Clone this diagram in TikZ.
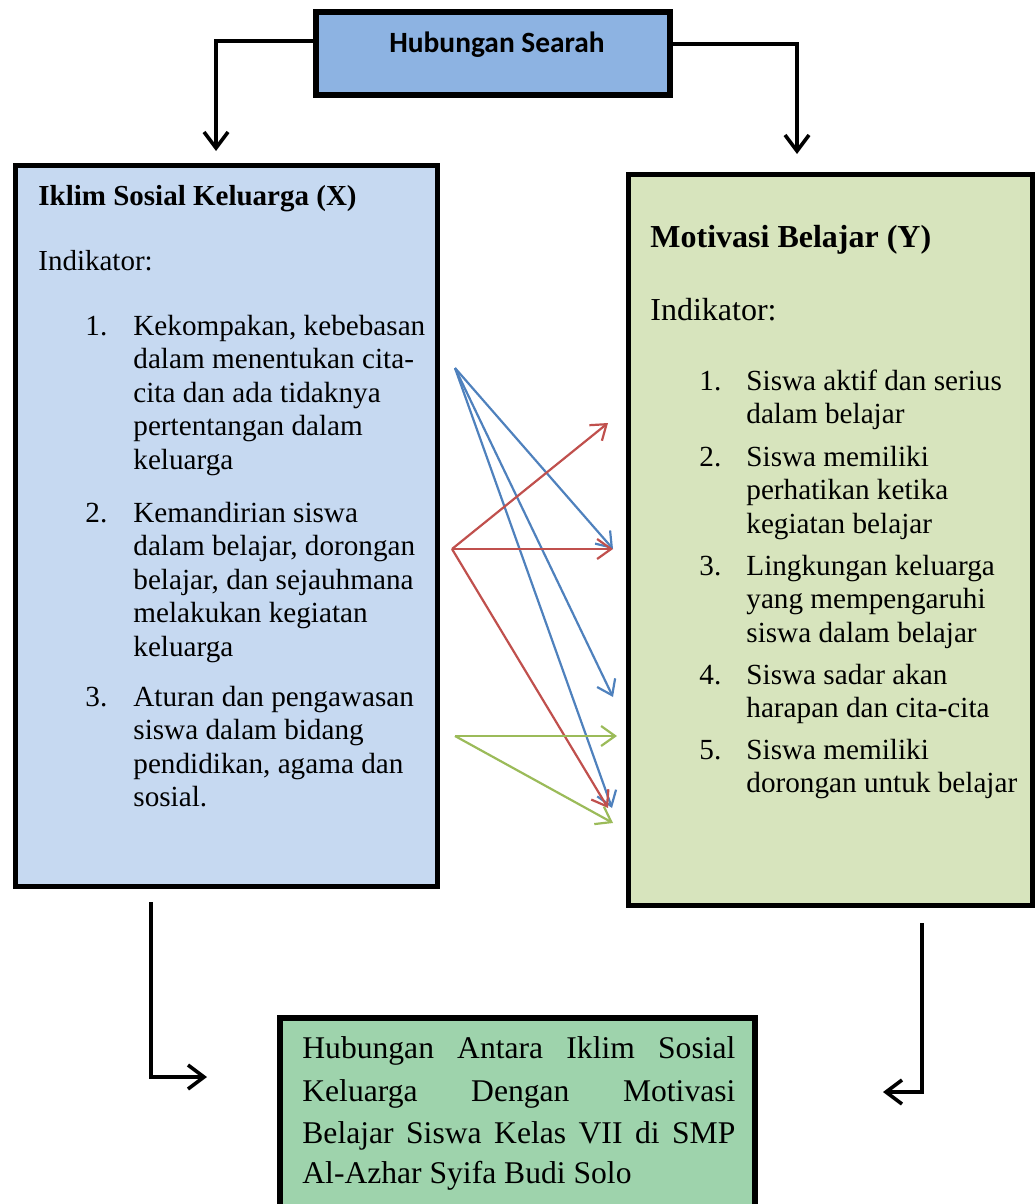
\documentclass[tikz,border=0pt]{standalone}
\usepackage{fontspec}
\setmainfont{Liberation Serif}
\newfontfamily\calibri{Carlito}
\usetikzlibrary{arrows.meta}

\definecolor{searahblue}{HTML}{8DB3E2}
\definecolor{xblue}{HTML}{C6D9F1}
\definecolor{ygreen}{HTML}{D7E4BD}
\definecolor{hasilgreen}{HTML}{9ED3AC}
\definecolor{lnblue}{HTML}{4F81BD}
\definecolor{lnred}{HTML}{C0504D}
\definecolor{lngreen}{HTML}{9BBB59}

\begin{document}
\begin{tikzpicture}[x=0.5pt,y=-0.5pt,
  box/.style={draw,anchor=north west,inner sep=0pt,outer sep=0pt},
  blk/.style={line width=1.8pt,-{Straight Barb[length=8pt,width=12pt]}},
  ind/.style={line width=1.1pt,-{Straight Barb[length=7pt,width=10pt]}},
  txt/.style={anchor=base west,inner sep=0pt,font=\fontsize{14.6}{16.8}\selectfont},
  big/.style={anchor=base west,inner sep=0pt,font=\fontsize{16}{19}\selectfont}]
  \useasboundingbox (0,0) rectangle (1035,1204);

  % boxes
  \node[box,line width=3pt,fill=searahblue,minimum width=177pt,minimum height=41.5pt] (searah) at (316,12) {};
  \node[anchor=base,inner sep=0pt,font=\calibri\bfseries\fontsize{14.7}{17}\selectfont] (searahlbl) at (497,53) {Hubungan Searah};
  \node[box,line width=2.5pt,fill=xblue,minimum width=211pt,minimum height=360.5pt] (keluarga) at (15,165) {};
  \node[box,line width=2.5pt,fill=ygreen,minimum width=202pt,minimum height=365.5pt] (motivasi) at (628.5,174.5) {};
  \node[box,line width=3pt,fill=hasilgreen,minimum width=237.5pt,minimum height=110pt] (hasil) at (280,1018) {};

  % Iklim Sosial Keluarga (X)
  \node[txt,font=\bfseries\fontsize{14.5}{16.8}\selectfont] (xjudul) at (38,205) {Iklim Sosial Keluarga (X)};
  \node[txt,font=\fontsize{14.5}{16.8}\selectfont] (xind) at (38,270) {Indikator:};
  \node[txt] (xn1) at (85,335) {1.};
  \foreach \t [count=\k from 0] in {{Kekompakan, kebebasan},{dalam menentukan cita-},{cita dan ada tidaknya},{pertentangan dalam},keluarga}
    \node[txt] (xa\k) at (133,335+33.6*\k) {\t};
  \node[txt] (xn2) at (85,522) {2.};
  \foreach \t [count=\k from 0] in {{Kemandirian siswa},{dalam belajar, dorongan},{belajar, dan sejauhmana},{melakukan kegiatan},keluarga}
    \node[txt] (xb\k) at (133,522+33.6*\k) {\t};
  \node[txt] (xn3) at (85,706) {3.};
  \foreach \t [count=\k from 0] in {{Aturan dan pengawasan},{siswa dalam bidang},{pendidikan, agama dan},{sosial.}}
    \node[txt] (xc\k) at (133,706+33.6*\k) {\t};

  % Motivasi Belajar (Y)
  \node[big,font=\bfseries\fontsize{16}{19}\selectfont] (yjudul) at (650,247) {Motivasi Belajar (Y)};
  \node[big] (yind) at (650,320) {Indikator:};
  \foreach \n/\y/\lines in {1/390/{{Siswa aktif dan serius},{dalam belajar}},
      2/466/{{Siswa memiliki},{perhatikan ketika},{kegiatan belajar}},
      3/575/{{Lingkungan keluarga},{yang mempengaruhi},{siswa dalam belajar}},
      4/684/{{Siswa sadar akan},{harapan dan cita-cita}},
      5/759/{{Siswa memiliki},{dorongan untuk belajar}}} {
    \node[txt] (yn\n) at (699,\y) {\n.};
    \foreach \t [count=\k from 0] in \lines
      \node[txt] (y\n l\k) at (746,\y+33.6*\k) {\t};
  }

  % hasil
  \node[txt,font=\fontsize{15.8}{21}\selectfont] (h1) at (302,1058) {\makebox[216.5pt][s]{Hubungan Antara Iklim Sosial}};
  \node[txt,font=\fontsize{15.8}{21}\selectfont] (h2) at (302,1101) {\makebox[216.5pt][s]{Keluarga Dengan Motivasi}};
  \node[txt,font=\fontsize{15.8}{21}\selectfont] (h3) at (302,1143) {\makebox[216.5pt][s]{Belajar Siswa Kelas VII di SMP}};
  \node[txt,font=\fontsize{15.8}{21}\selectfont] (h4) at (302,1183) {Al-Azhar Syifa Budi Solo};

  % black connectors
  \coordinate (kiri) at (216,151);
  \coordinate (kanan) at (797,154);
  \draw[blk] (searah.west |- 0,41) -| (kiri);
  \draw[blk] (searah.east |- 0,44) -| (kanan);
  \coordinate (xbawah) at (151,902);
  \coordinate (hkiri) at (207,1077);
  \coordinate (ybawah) at (922,923);
  \coordinate (hkanan) at (883,1092);
  \draw[blk] (xbawah) |- (hkiri);
  \draw[blk] (ybawah) |- (hkanan);

  % indicator links
  \coordinate (sb) at (455,368);
  \coordinate (sr) at (452,549);
  \coordinate (sg) at (455,736);
  \coordinate (t1) at (608,423);
  \coordinate (t2) at (613,549);
  \coordinate (t3) at (613,697);
  \coordinate (t4) at (617,736);
  \coordinate (t5r) at (608,808);
  \coordinate (t5b) at (612,808);
  \coordinate (t6) at (613,823);
  \foreach \e in {t2,t3,t5b} \draw[ind,lnblue] (sb) -- (\e);
  \foreach \e in {t1,t2,t5r} \draw[ind,lnred] (sr) -- (\e);
  \foreach \e in {t4,t6} \draw[ind,lngreen] (sg) -- (\e);
\end{tikzpicture}
\end{document}
